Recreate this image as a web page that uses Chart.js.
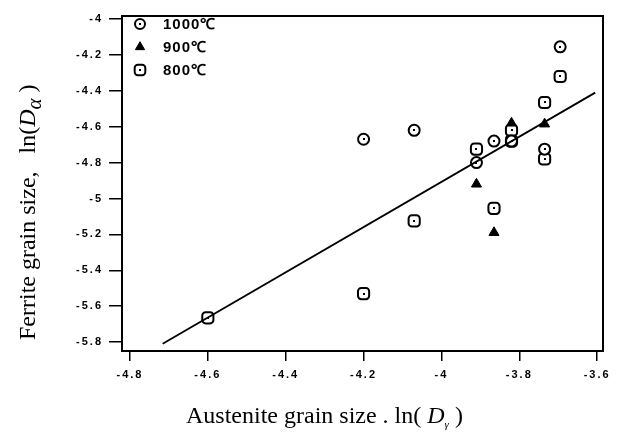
<!DOCTYPE html>
<html><head><meta charset="utf-8">
<script src="https://cdn.jsdelivr.net/npm/chart.js@4"></script>
<style>html,body{margin:0;padding:0;background:#fff}</style>
</head><body>
<canvas id="c" width="624" height="432" style="width:624px;height:432px;display:block"></canvas>
<script>
// ---- data ----
const xTicks = [-4.8, -4.6, -4.4, -4.2, -4, -3.8, -3.6];
const yTicks = [-4, -4.2, -4.4, -4.6, -4.8, -5, -5.2, -5.4, -5.6, -5.8];
const seriesLabels = ['1000℃', '900℃', '800℃'];

const x1000 = [-4.20, -4.07, -3.91, -3.865, -3.82, -3.735, -3.695];
const y1000 = [-4.67, -4.62, -4.80, -4.68, -4.68, -4.725, -4.155];

const x900 = [-3.91, -3.865, -3.82, -3.735];
const y900 = [-4.92, -5.19, -4.58, -4.585];

const x800 = [-4.60, -4.20, -4.07, -3.91, -3.865, -3.82, -3.82, -3.735, -3.735, -3.695];
const y800 = [-5.665, -5.53, -5.125, -4.725, -5.055, -4.62, -4.68, -4.465, -4.78, -4.32];

const fitX = [-4.716, -3.605];
const fitY = [-5.81, -4.41];

const xRange = [-4.8205, -3.585];
const yRange = [-5.85, -3.983];

const pts = (xs, ys) => xs.map((x, i) => ({x, y: ys[i]}));

const styles = [
  {pointStyle: 'circle', radius: 5.5, fill: '#fff', dot: true},
  {pointStyle: 'triangle', radius: 5.8, fill: '#000', dot: false},
  {pointStyle: 'rectRounded', radius: 6.5, fill: '#fff', dot: true}
];

const datasets = [
  [x1000, y1000], [x900, y900], [x800, y800]
].map((d, i) => ({
  label: seriesLabels[i],
  data: pts(d[0], d[1]),
  pointStyle: styles[i].pointStyle,
  pointRadius: styles[i].radius,
  pointHoverRadius: styles[i].radius,
  pointBackgroundColor: styles[i].fill,
  pointBorderColor: '#000',
  pointBorderWidth: i === 1 ? 1 : 2,
  showLine: false,
  dot: styles[i].dot
}));
datasets.unshift({
  label: 'fit',
  data: pts(fitX, fitY),
  showLine: true,
  borderColor: '#000',
  borderWidth: 1.8,
  pointRadius: 0,
  fill: false
});

const spacingPlugin = {
  id: 'spacing',
  beforeDraw(chart) { chart.ctx.letterSpacing = '2px'; }
};

const framePlugin = {
  id: 'frame',
  afterDatasetsDraw(chart) {
    const {ctx, chartArea: a} = chart;
    ctx.save();
    ctx.strokeStyle = '#000';
    ctx.lineWidth = 2;
    ctx.strokeRect(a.left, a.top, a.right - a.left, a.bottom - a.top);
    chart.data.datasets.forEach((ds, i) => {
      if (!ds.dot) return;
      chart.getDatasetMeta(i).data.forEach(el => {
        ctx.fillStyle = '#000';
        ctx.fillRect(Math.round(el.x) - 1, Math.round(el.y) - 1, 2, 2);
      });
    });
    ctx.restore();
  }
};

const legendPlugin = {
  id: 'myLegend',
  afterDraw(chart) {
    const {ctx, chartArea: a} = chart;
    ctx.save();
    ctx.letterSpacing = '1px';
    seriesLabels.forEach((lab, i) => {
      const st = styles[i];
      const mx = a.left + 18, my = a.top + 8 + i * 23;
      ctx.fillStyle = st.fill;
      ctx.strokeStyle = '#000';
      ctx.lineWidth = i === 1 ? 1 : 2;
      Chart.helpers.drawPoint(ctx, {pointStyle: st.pointStyle, radius: i === 2 ? 6.2 : st.radius - 0.5, borderWidth: ctx.lineWidth, rotation: 0}, mx, my);
      if (st.dot) { ctx.fillStyle = '#000'; ctx.fillRect(mx - 1, my - 1, 2, 2); }
      ctx.fillStyle = '#000';
      ctx.font = 'bold 15px "Liberation Sans", Arial, sans-serif';
      ctx.textBaseline = 'middle';
      ctx.textAlign = 'left';
      ctx.fillText(lab, a.left + 41, my + 1);
    });
    ctx.restore();
  }
};

function drawRich(ctx, parts, x0, cy, anchorLeft) {
  let total = 0;
  parts.forEach(p => { ctx.font = p.font; p.w = ctx.measureText(p.t).width; total += p.w; });
  let x = anchorLeft ? x0 : x0 - total / 2;
  parts.forEach(p => {
    ctx.font = p.font;
    ctx.fillText(p.t, x, cy + (p.dy || 0));
    x += p.w;
  });
}

const titlePlugin = {
  id: 'titles',
  afterDraw(chart) {
    const {ctx} = chart;
    ctx.save();
    ctx.letterSpacing = '0px';
    ctx.fillStyle = '#000';
    ctx.textBaseline = 'alphabetic';
    ctx.textAlign = 'left';
    const serif = '"Liberation Serif", "Times New Roman", serif';
    // x title
    drawRich(ctx, [
      {t: 'Austenite grain size . ln( ', font: '24px ' + serif},
      {t: 'D', font: 'italic 24px ' + serif},
      {t: 'γ', font: 'italic 11px ' + serif, dy: 5},
      {t: ' )', font: '24px ' + serif}
    ], 186, 423, true);
    // y title
    ctx.translate(35, 340);
    ctx.rotate(-Math.PI / 2);
    drawRich(ctx, [
      {t: 'Ferrite grain size,   ln(', font: '24px ' + serif},
      {t: 'D', font: 'italic 24px ' + serif},
      {t: 'α', font: 'italic 21px ' + serif, dy: 6},
      {t: ' )', font: '24px ' + serif}
    ], 0, 0, true);
    ctx.restore();
  }
};

const tickFont = {family: '"Liberation Sans", Arial, sans-serif', size: 11, weight: 'bold'};
const fmt = v => String(Math.round(v * 10) / 10);

new Chart(document.getElementById('c'), {
  type: 'scatter',
  data: {datasets},
  options: {
    responsive: false,
    animation: false,
    devicePixelRatio: 1,
    layout: {padding: {top: 16, right: 21, left: 0, bottom: 0}},
    plugins: {legend: {display: false}, tooltip: {enabled: false}},
    scales: {
      x: {
        type: 'linear', min: xRange[0], max: xRange[1],
        afterBuildTicks: s => { s.ticks = xTicks.map(v => ({value: v})); },
        afterFit: s => { s.height = 81; },
        ticks: {font: tickFont, color: '#000', padding: 7, callback: fmt, maxRotation: 0, autoSkip: false},
        grid: {drawOnChartArea: false, drawTicks: true, tickLength: 10, color: '#000', lineWidth: 1.5},
        border: {display: true, color: '#000', width: 2}
      },
      y: {
        type: 'linear', min: yRange[0], max: yRange[1],
        afterBuildTicks: s => { s.ticks = yTicks.map(v => ({value: v})); },
        afterFit: s => { s.width = 122; },
        ticks: {font: tickFont, color: '#000', padding: 6, callback: fmt, autoSkip: false},
        grid: {drawOnChartArea: false, drawTicks: true, tickLength: 13, color: '#000', lineWidth: 1.5},
        border: {display: true, color: '#000', width: 2}
      }
    }
  },
  plugins: [spacingPlugin, framePlugin, legendPlugin, titlePlugin]
});
</script>
</body></html>
